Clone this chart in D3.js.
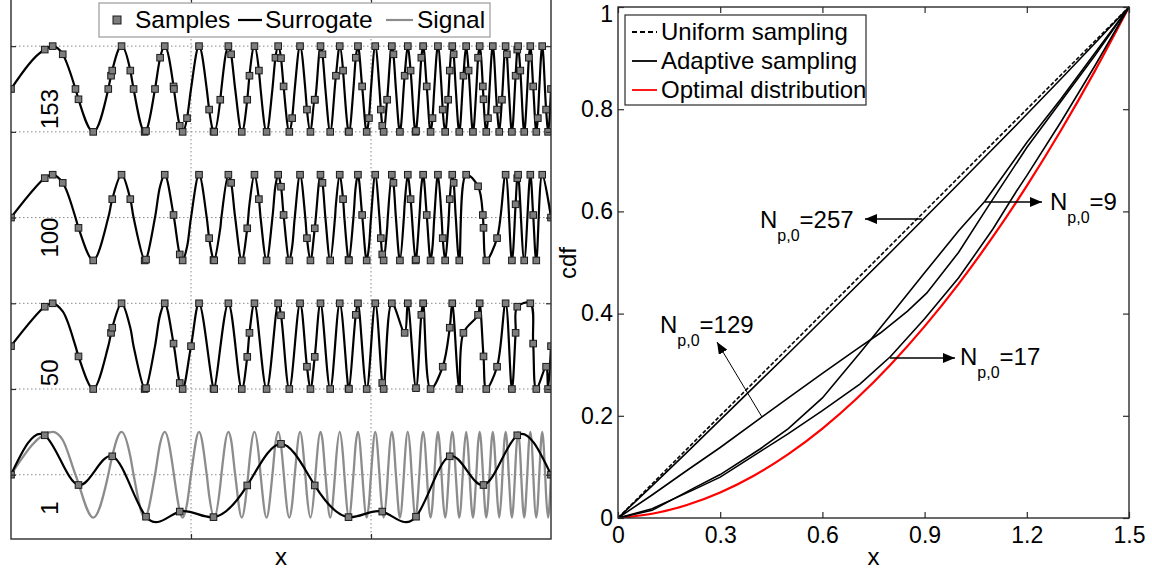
<!DOCTYPE html>
<html><head><meta charset="utf-8">
<script src="https://cdn.jsdelivr.net/npm/d3@7"></script>
<style>
html,body{margin:0;padding:0;background:#fff;}
svg{display:block;}
text{font-family:"Liberation Sans",Arial,sans-serif;fill:#000;}
</style></head><body>
<svg id="c" width="1152" height="571"></svg>
<script>
// ---------------- DATA ----------------
// signal read at its quarter-period points (zero crossings and extrema)
const quarterX = [0,0.1158,0.1791,0.2284,0.2702,0.3071,0.3405,0.3713,0.4000,0.4270,0.4525,0.4768,0.5000,0.5223,0.5437,0.5644,0.5844,0.6038,0.6227,0.6410,0.6589,0.6763,0.6933,0.7099,0.7262,0.7421,0.7578,0.7731,0.7882,0.8029,0.8175,0.8318,0.8458,0.8597,0.8733,0.8867,0.9000,0.9131,0.9260,0.9387,0.9512,0.9637,0.9759,0.9880,1.0000,1.0118,1.0235,1.0351,1.0466,1.0579,1.0692,1.0803,1.0913,1.1022,1.1130,1.1237,1.1343,1.1448,1.1552,1.1655,1.1758,1.1859,1.1960,1.2060,1.2159,1.2257,1.2355,1.2452,1.2548,1.2643,1.2738,1.2832,1.2926,1.3019,1.3111,1.3202,1.3293,1.3383,1.3473,1.3562,1.3651,1.3739,1.3827,1.3914,1.4000,1.4086,1.4171,1.4256,1.4341,1.4425,1.4508,1.4591,1.4674,1.4756,1.4838,1.4919,1.5000];
const quarterY = [0,1,0,-1,0,1,0,-1,0,1,0,-1,0,1,0,-1,0,1,0,-1,0,1,0,-1,0,1,0,-1,0,1,0,-1,0,1,0,-1,0,1,0,-1,0,1,0,-1,0,1,0,-1,0,1,0,-1,0,1,0,-1,0,1,0,-1,0,1,0,-1,0,1,0,-1,0,1,0,-1,0,1,0,-1,0,1,0,-1,0,1,0,-1,0,1,0,-1,0,1,0,-1,0,1,0,-1,0];
// signal read at one intermediate point inside each half period
const midX = [0.1437,0.2779,0.3314,0.4142,0.4515,0.4890,0.5504,0.5813,0.6114,0.6624,0.6886,0.7345,0.7572,0.7810,0.8221,0.8436,0.8652,0.9026,0.9224,0.9577,0.9754,0.9943,1.0273,1.0448,1.0624,1.0935,1.1100,1.1398,1.1548,1.1709,1.1992,1.2143,1.2297,1.2567,1.2712,1.2974,1.3107,1.3250,1.3502,1.3637,1.3774,1.4017,1.4148,1.4385,1.4505,1.4634,1.4864];
const midY = [0.81,0.31,0.43,0.73,0.06,-0.68,-0.48,-0.25,0.81,0.31,0.43,0.73,0.06,-0.68,-0.48,-0.25,0.81,0.31,0.43,0.73,0.06,-0.68,-0.48,-0.25,0.81,0.31,0.43,0.73,0.06,-0.68,-0.48,-0.25,0.81,0.31,0.43,0.73,0.06,-0.68,-0.48,-0.25,0.81,0.31,0.43,0.73,0.06,-0.68,-0.48];
// initial uniform samples (17)
const uniformX = [0,0.09375,0.1875,0.28125,0.375,0.46875,0.5625,0.65625,0.75,0.84375,0.9375,1.03125,1.125,1.21875,1.3125,1.40625,1.5];
const uniformY = [0,0.92,-0.24,0.43,-0.98,-0.86,-0.99,-0.25,0.72,-0.25,-0.99,-0.86,-0.98,0.43,-0.24,0.92,0];
// adaptive samples of each iteration: indices into quarter points / intermediate points
const sel1Q = [], sel1M = [];
const sel50Q = [1,3,5,7,9,11,12,13,15,17,19,21,23,25,27,29,31,33,35,37,39,41,43,45,47,49,53,57,59,65,67,73,75,81,83,89,91,95];
const sel50M = [1,4,9,14,19,25,27,30,33,35,38,41,44,46];
const sel100Q = [1,3,5,7,9,11,13,15,17,19,21,23,25,27,29,31,33,35,37,39,41,43,45,47,49,51,53,55,57,59,61,63,65,67,69,75,81,83,85,87,89,91,93];
const sel100M = [0,2,4,6,8,10,12,14,16,18,20,22,24,26,28,30,32,35,36,38,41,44];
const sel153Q = [1,2,3,4,5,6,7,8,9,10,11,13,15,17,19,21,23,25,27,29,31,33,35,37,39,41,43,45,47,49,51,53,55,57,59,61,63,65,67,69,71,73,75,77,79,81,83,85,87,89,91,93,95];
const sel153M = [0,1,2,3,4,5,6,7,8,9,10,11,12,13,14,15,16,17,18,19,20,21,22,23,24,25,26,27,28,29,30,31,32,33,34,35,36,37,38,39,40,41,42,43,44,45,46];
// x up to which each surrogate coincides with the signal
const agreeUpTo = [0, 0.47, 1.24, 1.51];
const traceLabels = ["1","50","100","153"];
const traceOffsets = [0,3,6,9];
const leftYTicks = [0,2,4,6,8,10];
const leftXTicks = [0.5,1.0];

// right panel
const rightXTicks = [0,0.3,0.6,0.9,1.2,1.5];
const rightXTickLabels = ["0","0.3","0.6","0.9","1.2","1.5"];
const rightYTicks = [0,0.2,0.4,0.6,0.8,1];
const rightYTickLabels = ["0","0.2","0.4","0.6","0.8","1"];
const optimalX = [0,0.1,0.2,0.3,0.4,0.5,0.6,0.7,0.8,0.9,1.0,1.1,1.2,1.3,1.4,1.5];
const optimalY = [0,0.0083,0.025,0.05,0.0833,0.125,0.175,0.2333,0.3,0.375,0.4583,0.55,0.65,0.7583,0.875,1];
const uniformCdfX = [0,1.5];
const uniformCdfY = [0,1];
const adapt257X = [0,0.1,0.2,0.3,0.4,0.5,0.6,0.7,0.8,0.9,1.0,1.1,1.2,1.3,1.4,1.5];
const adapt257Y = [0,0.063,0.127,0.192,0.257,0.322,0.388,0.454,0.52,0.587,0.654,0.722,0.79,0.859,0.929,1];
const adapt129X = [0,0.1,0.2,0.3,0.423,0.5,0.6,0.7,0.77,0.85,0.906,1.0,1.077,1.121,1.2,1.3,1.4,1.5];
const adapt129Y = [0,0.045,0.092,0.138,0.198,0.235,0.283,0.33,0.362,0.405,0.44,0.52,0.6,0.645,0.725,0.815,0.905,1];
const adapt17X = [0,0.1,0.221,0.3,0.417,0.5,0.6,0.71,0.8,0.9,1.0,1.1,1.17,1.2,1.3,1.4,1.5];
const adapt17Y = [0,0.018,0.055,0.08,0.13,0.165,0.21,0.262,0.316,0.39,0.47,0.565,0.64,0.67,0.775,0.885,1];
const adapt9X = [0,0.1,0.221,0.3,0.417,0.5,0.6,0.71,0.8,0.9,1.0,1.077,1.121,1.2,1.3,1.4,1.5];
const adapt9Y = [0,0.015,0.058,0.085,0.135,0.175,0.235,0.323,0.397,0.48,0.562,0.62,0.661,0.735,0.82,0.91,1];
const legendLeft = ["Samples","Surrogate","Signal"];
const legendRight = ["Uniform sampling","Adaptive sampling","Optimal distribution"];
const annValues = ["257","9","17","129"];

// ---------------- LAYOUT ----------------
const svg = d3.select("#c");
const FS = 24, TFS = 23;
const xL = d3.scaleLinear().domain([0,1.5]).range([11,551]);
const yL = d3.scaleLinear().domain([-1.5,11.1]).range([539,-1]);
const xR = d3.scaleLinear().domain([0,1.5]).range([618,1129]);
const yR = d3.scaleLinear().domain([0,1]).range([518,7]);
const AX = "#2b2b2b";

const defs = svg.append("defs");
defs.append("clipPath").attr("id","clipL").append("rect")
  .attr("x",xL(0)).attr("y",yL(11.1)).attr("width",xL(1.5)-xL(0)).attr("height",yL(-1.5)-yL(11.1));
defs.append("clipPath").attr("id","clipR").append("rect")
  .attr("x",xR(0)).attr("y",yR(1)-2).attr("width",xR(1.5)-xR(0)+2).attr("height",yR(0)-yR(1)+2);
defs.append("marker").attr("id","arr").attr("viewBox","0 0 12 10").attr("refX",12).attr("refY",5)
  .attr("markerWidth",12).attr("markerHeight",10).attr("markerUnits","userSpaceOnUse").attr("orient","auto")
  .append("path").attr("d","M0,0L12,5L0,10Z").attr("fill","#000");

// ======== LEFT PANEL ========
const gL = svg.append("g");
gL.selectAll(".hg").data(leftYTicks).join("line")
  .attr("x1",xL(0)).attr("x2",xL(1.5)).attr("y1",d=>yL(d)).attr("y2",d=>yL(d))
  .attr("stroke","#8a8a8a").attr("stroke-width",1).attr("stroke-dasharray","1.5,2.5");
gL.selectAll(".vg").data(leftXTicks).join("line")
  .attr("x1",d=>xL(d)).attr("x2",d=>xL(d)).attr("y1",yL(11.1)).attr("y2",yL(-1.5))
  .attr("stroke","#8a8a8a").attr("stroke-width",1).attr("stroke-dasharray","1.5,2.5");

function mergePts(list){
  list = list.slice().sort((a,b)=>a[0]-b[0]);
  const out=[];
  list.forEach(p=>{ if(!out.length || Math.abs(out[out.length-1][0]-p[0])>1e-6) out.push(p); });
  return out;
}
const signalPts = mergePts(quarterX.map((x,k)=>[x,quarterY[k]]).concat(midX.map((x,k)=>[x,midY[k]])));
function samplesFor(selQ, selM){
  const pts = uniformX.map((x,i)=>[x,uniformY[i]]);
  selQ.forEach(j=>pts.push([quarterX[j],quarterY[j]]));
  selM.forEach(k=>pts.push([midX[k],midY[k]]));
  return mergePts(pts);
}
const sels = [[sel1Q,sel1M],[sel50Q,sel50M],[sel100Q,sel100M],[sel153Q,sel153M]];
const curves = [d3.curveNatural, d3.curveCatmullRom.alpha(0.5), d3.curveCatmullRom.alpha(0.5), d3.curveMonotoneX];
const plotL = gL.append("g").attr("clip-path","url(#clipL)");

traceLabels.forEach((lab,i)=>{
  gL.append("text").attr("transform",`translate(58,${yL(traceOffsets[i])+40}) rotate(-90)`)
    .attr("font-size",FS).attr("text-anchor","start").text(lab);
});

traceLabels.forEach((lab,i)=>{
  const off = traceOffsets[i];
  const line = d3.line().x(d=>xL(d[0])).y(d=>yL(d[1]+off));
  if(i===0){
    plotL.append("path").attr("d",line.curve(d3.curveMonotoneX)(signalPts)).attr("fill","none").attr("stroke","#8c8c8c").attr("stroke-width",2.3);
  }
  const s = samplesFor(sels[i][0], sels[i][1]);
  // surrogate knots: the samples, plus the signal where the surrogate has converged to it
  const extra = signalPts.filter(p=>p[0] < agreeUpTo[i] && !s.some(q=>Math.abs(q[0]-p[0])<0.003));
  const knots = mergePts(s.concat(extra));
  plotL.append("path").attr("d",line.curve(curves[i])(knots)).attr("fill","none").attr("stroke","#000").attr("stroke-width",2.2);
  plotL.selectAll(null).data(s).join("rect")
    .attr("x",d=>xL(d[0])-3.3).attr("y",d=>yL(d[1]+off)-3.3).attr("width",6.6).attr("height",6.6)
    .attr("fill","#7d7d7d").attr("stroke","#1a1a1a").attr("stroke-width",1);
});

function noDomain(g){ g.select(".domain").remove(); g.selectAll("line").attr("stroke",AX).attr("stroke-width",1.2); }
gL.append("g").attr("transform",`translate(0,${yL(-1.5)})`)
  .call(d3.axisBottom(xL).tickValues(leftXTicks).tickSizeInner(-5).tickSizeOuter(0).tickFormat("")).call(noDomain);
gL.append("g").attr("transform",`translate(0,${yL(11.1)})`)
  .call(d3.axisTop(xL).tickValues(leftXTicks).tickSizeInner(-5).tickSizeOuter(0).tickFormat("")).call(noDomain);
gL.append("g").attr("transform",`translate(${xL(0)},0)`)
  .call(d3.axisLeft(yL).tickValues(leftYTicks).tickSizeInner(-5).tickSizeOuter(0).tickFormat("")).call(noDomain);
gL.append("g").attr("transform",`translate(${xL(1.5)},0)`)
  .call(d3.axisRight(yL).tickValues(leftYTicks).tickSizeInner(-5).tickSizeOuter(0).tickFormat("")).call(noDomain);
gL.append("rect").attr("x",xL(0)).attr("y",yL(11.1)).attr("width",xL(1.5)-xL(0)).attr("height",yL(-1.5)-yL(11.1))
  .attr("fill","none").attr("stroke",AX).attr("stroke-width",1.4);

const lg = gL.append("g");
lg.append("rect").attr("x",99).attr("y",3).attr("width",391).attr("height",34).attr("fill","#fff").attr("stroke","#9a9a9a").attr("stroke-width",1.2);
lg.append("rect").attr("x",113).attr("y",16).attr("width",8).attr("height",8).attr("fill","#7d7d7d").attr("stroke","#1a1a1a");
lg.append("text").attr("x",135).attr("y",28).attr("font-size",24.5).text(legendLeft[0]);
lg.append("line").attr("x1",238).attr("x2",262).attr("y1",20).attr("y2",20).attr("stroke","#000").attr("stroke-width",2.2);
lg.append("text").attr("x",265).attr("y",28).attr("font-size",24.5).text(legendLeft[1]);
lg.append("line").attr("x1",386).attr("x2",413).attr("y1",20).attr("y2",20).attr("stroke","#8c8c8c").attr("stroke-width",2.2);
lg.append("text").attr("x",417).attr("y",28).attr("font-size",24.5).text(legendLeft[2]);

gL.append("text").attr("x",(xL(0)+xL(1.5))/2).attr("y",565).attr("text-anchor","middle").attr("font-size",FS).text("x");

// ======== RIGHT PANEL ========
const gR = svg.append("g");
const plotR = gR.append("g").attr("clip-path","url(#clipR)");
const zipP = (X,Y)=>X.map((x,i)=>[x,Y[i]]);
const lineR = d3.line().x(d=>xR(d[0])).y(d=>yR(d[1]));
plotR.append("path").attr("d",d3.line().x(d=>xR(d[0])).y(d=>yR(d[1])).curve(d3.curveMonotoneX)(zipP(optimalX,optimalY))).attr("fill","none").attr("stroke","#ff0000").attr("stroke-width",2.2);
[[adapt257X,adapt257Y],[adapt129X,adapt129Y],[adapt17X,adapt17Y],[adapt9X,adapt9Y]].forEach(([X,Y])=>{
  plotR.append("path").attr("d",lineR(zipP(X,Y))).attr("fill","none").attr("stroke","#000").attr("stroke-width",1.6);
});
plotR.append("path").attr("d",lineR(zipP(uniformCdfX,uniformCdfY))).attr("fill","none").attr("stroke","#000").attr("stroke-width",1.6).attr("stroke-dasharray","4,2");

function styleAx(g){ g.select(".domain").remove(); g.selectAll("line").attr("stroke",AX).attr("stroke-width",1.2); g.selectAll("text").attr("font-size",TFS).attr("font-family",'"Liberation Sans",Arial,sans-serif').attr("fill","#000"); }
gR.append("g").attr("transform",`translate(0,${yR(0)})`)
  .call(d3.axisBottom(xR).tickValues(rightXTicks).tickSizeInner(-6).tickSizeOuter(0).tickPadding(9).tickFormat((d,i)=>rightXTickLabels[i])).call(styleAx);
gR.append("g").attr("transform",`translate(0,${yR(1)})`)
  .call(d3.axisTop(xR).tickValues(rightXTicks).tickSizeInner(-6).tickSizeOuter(0).tickFormat("")).call(styleAx);
const yAxR = gR.append("g").attr("transform",`translate(${xR(0)},0)`)
  .call(d3.axisLeft(yR).tickValues(rightYTicks).tickSizeInner(-6).tickSizeOuter(0).tickPadding(5).tickFormat((d,i)=>rightYTickLabels[i])).call(styleAx);
yAxR.selectAll(".tick").filter(d=>d===1).select("text").attr("dy","0.62em");
gR.append("g").attr("transform",`translate(${xR(1.5)},0)`)
  .call(d3.axisRight(yR).tickValues(rightYTicks).tickSizeInner(-6).tickSizeOuter(0).tickFormat("")).call(styleAx);
gR.append("rect").attr("x",xR(0)).attr("y",yR(1)).attr("width",xR(1.5)-xR(0)).attr("height",yR(0)-yR(1))
  .attr("fill","none").attr("stroke",AX).attr("stroke-width",1.4);

gR.append("text").attr("transform",`translate(576,263) rotate(-90)`).attr("text-anchor","middle").attr("font-size",FS).text("cdf");
gR.append("text").attr("x",(xR(0)+xR(1.5))/2).attr("y",565).attr("text-anchor","middle").attr("font-size",FS).text("x");

const rg = gR.append("g");
rg.append("rect").attr("x",625).attr("y",15).attr("width",241).attr("height",90).attr("fill","#fff").attr("stroke","#2b2b2b").attr("stroke-width",1.2);
const rStyles = [{c:"#000",d:"5,3"},{c:"#000",d:null},{c:"#ff0000",d:null}];
legendRight.forEach((t,i)=>{
  const by = 40 + i*29;
  rg.append("line").attr("x1",632).attr("x2",657).attr("y1",by-8).attr("y2",by-8).attr("stroke",rStyles[i].c).attr("stroke-width",1.8).attr("stroke-dasharray",rStyles[i].d);
  rg.append("text").attr("x",661).attr("y",by).attr("font-size",FS).text(t);
});

const anns = [
  {v:annValues[0], tx:0.4168, ty:0.5675, a:[0.8923,0.5851,0.725,0.5851], w:1.6},
  {v:annValues[1], tx:1.268, ty:0.6027, a:[1.0772,0.6184,1.2445,0.6184], w:1.6},
  {v:annValues[2], tx:1.0038, ty:0.2994, a:[0.7984,0.3131,0.9891,0.3131], w:1.6},
  {v:annValues[3], tx:0.1233, ty:0.362, a:[0.4227,0.1977,0.2906,0.3444], w:1}
];
anns.forEach(a=>{
  gR.append("line").attr("x1",xR(a.a[0])).attr("y1",yR(a.a[1])).attr("x2",xR(a.a[2])).attr("y2",yR(a.a[3]))
    .attr("stroke","#000").attr("stroke-width",a.w).attr("marker-end","url(#arr)");
  const t = gR.append("text").attr("x",xR(a.tx)).attr("y",yR(a.ty)).attr("font-size",FS);
  t.append("tspan").text("N");
  t.append("tspan").attr("font-size",16).attr("dy",13).text("p,0");
  t.append("tspan").attr("font-size",FS).attr("dy",-13).text("="+a.v);
});
</script>
</body></html>
